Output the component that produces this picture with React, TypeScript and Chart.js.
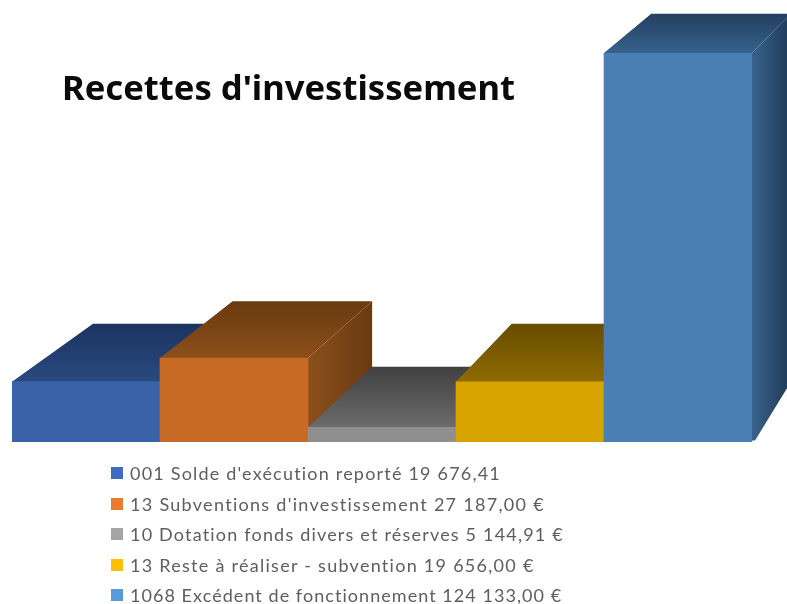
import React, { useEffect, useRef } from "react";
import { Chart, registerables } from "chart.js";

Chart.register(...registerables);

const title = "Recettes d'investissement";
const categories = [
  "001 Solde d'exécution reporté 19 676,41",
  "13 Subventions d'investissement 27 187,00 €",
  "10 Dotation fonds divers et réserves 5 144,91 €",
  "13 Reste à réaliser - subvention 19 656,00 €",
  "1068 Excédent de fonctionnement 124 133,00 €",
];
const values = [19676.41, 27187, 5144.91, 19656, 124133];
const frontColors = ["#3a62a8", "#c66a26", "#8f8f8f", "#d6a300", "#4a7fb4"];
const topBack = ["#1b3360", "#693a10", "#404040", "#664c00", "#23405f"];
const topFront = ["#294a80", "#8c4f1a", "#6c6c6c", "#8f6c00", "#36618c"];
const sideFront = ["#294a80", "#8c4f1c", "#6c6c6c", "#8f6c00", "#38628c"];
const sideBack = ["#1b3360", "#693a10", "#404040", "#664c00", "#1f3a58"];
const swatchColors = ["#3f6bc2", "#e97b32", "#a5a5a5", "#ffc000", "#5a9ad6"];
const legendSpacing = [1.2, 1.3, 1.19, 1.27, 1.05];

// perspective: the back plane of each box is the front plane scaled about a vanishing point
const backX = (x: number) => 93 + 0.943 * (x - 12);
const backY = (y: number) => 323 + 0.943 * (y - 381);

const boxFaces = {
  id: "boxFaces",
  beforeDatasetsDraw(chart: any) {
    const ctx = chart.ctx;
    const bars = chart.getDatasetMeta(0).data;
    bars.forEach((bar: any, i: number) => {
      const l = bar.x - bar.width / 2;
      const r = bar.x + bar.width / 2;
      const t = bar.y;
      const b = bar.base;
      // side face (its foot stops short of the base, under the next bar's front)
      const sg = ctx.createLinearGradient(r, 0, backX(r), 0);
      sg.addColorStop(0, sideFront[i]);
      sg.addColorStop(1, sideBack[i]);
      ctx.fillStyle = sg;
      ctx.beginPath();
      ctx.moveTo(r - 1, t);
      ctx.lineTo(r, t);
      ctx.lineTo(backX(r), backY(t));
      ctx.lineTo(backX(r), backY(b));
      ctx.lineTo(r + 3, b - 3);
      ctx.lineTo(r - 1, b - 3);
      ctx.closePath();
      ctx.fill();
      // top face
      const tg = ctx.createLinearGradient(0, backY(t), 0, t);
      tg.addColorStop(0, topBack[i]);
      tg.addColorStop(1, topFront[i]);
      ctx.fillStyle = tg;
      ctx.beginPath();
      ctx.moveTo(l, t + 1);
      ctx.lineTo(l, t);
      ctx.lineTo(backX(l), backY(t));
      ctx.lineTo(backX(r), backY(t));
      ctx.lineTo(r, t);
      ctx.lineTo(r, t + 1);
      ctx.closePath();
      ctx.fill();
    });
  },
};

export default function App() {
  const ref = useRef<HTMLCanvasElement>(null);
  useEffect(() => {
    const chart = new Chart(ref.current!, {
      type: "bar",
      data: {
        labels: categories,
        datasets: [
          {
            data: values,
            backgroundColor: frontColors,
            borderWidth: 0,
            barPercentage: 1,
            categoryPercentage: 1,
          },
        ],
      },
      options: {
        responsive: false,
        animation: false,
        layout: { padding: { left: 12, right: 35, top: 53, bottom: 162 } },
        scales: {
          x: { display: false },
          y: { display: false, min: 500, max: 124133 },
        },
        plugins: { legend: { display: false }, title: { display: false }, tooltip: { enabled: false } },
      },
      plugins: [boxFaces],
    } as any);
    return () => chart.destroy();
  }, []);
  return (
    <div style={{ position: "absolute", left: 0, top: 0, width: 787, height: 604, overflow: "hidden", background: "#fff" }}>
      <canvas ref={ref} width={787} height={604} style={{ display: "block", filter: "blur(0.5px)" }} />
      <div
        style={{
          position: "absolute",
          left: 62,
          top: 64,
          fontFamily: "'Noto Sans', sans-serif",
          fontWeight: 700,
          fontSize: 34.6,
          lineHeight: "46px",
          color: "#0a0a0a",
          whiteSpace: "nowrap",
        }}
      >
        {title}
      </div>
      {categories.map((c, i) => (
        <div key={c}>
          <div
            style={{
              position: "absolute",
              left: 111,
              top: 467 + Math.round(i * 30.6),
              width: 12,
              height: 12,
              background: swatchColors[i],
              filter: "blur(0.4px)",
            }}
          />
          <div
            style={{
              position: "absolute",
              left: 130,
              top: 461 + Math.round(i * 30.6),
              fontFamily: "Lato, sans-serif",
              fontSize: 18,
              lineHeight: "24px",
              letterSpacing: legendSpacing[i],
              color: "#5e5e5e",
              whiteSpace: "nowrap",
              filter: "blur(0.5px)",
            }}
          >
            {c}
          </div>
        </div>
      ))}
    </div>
  );
}
